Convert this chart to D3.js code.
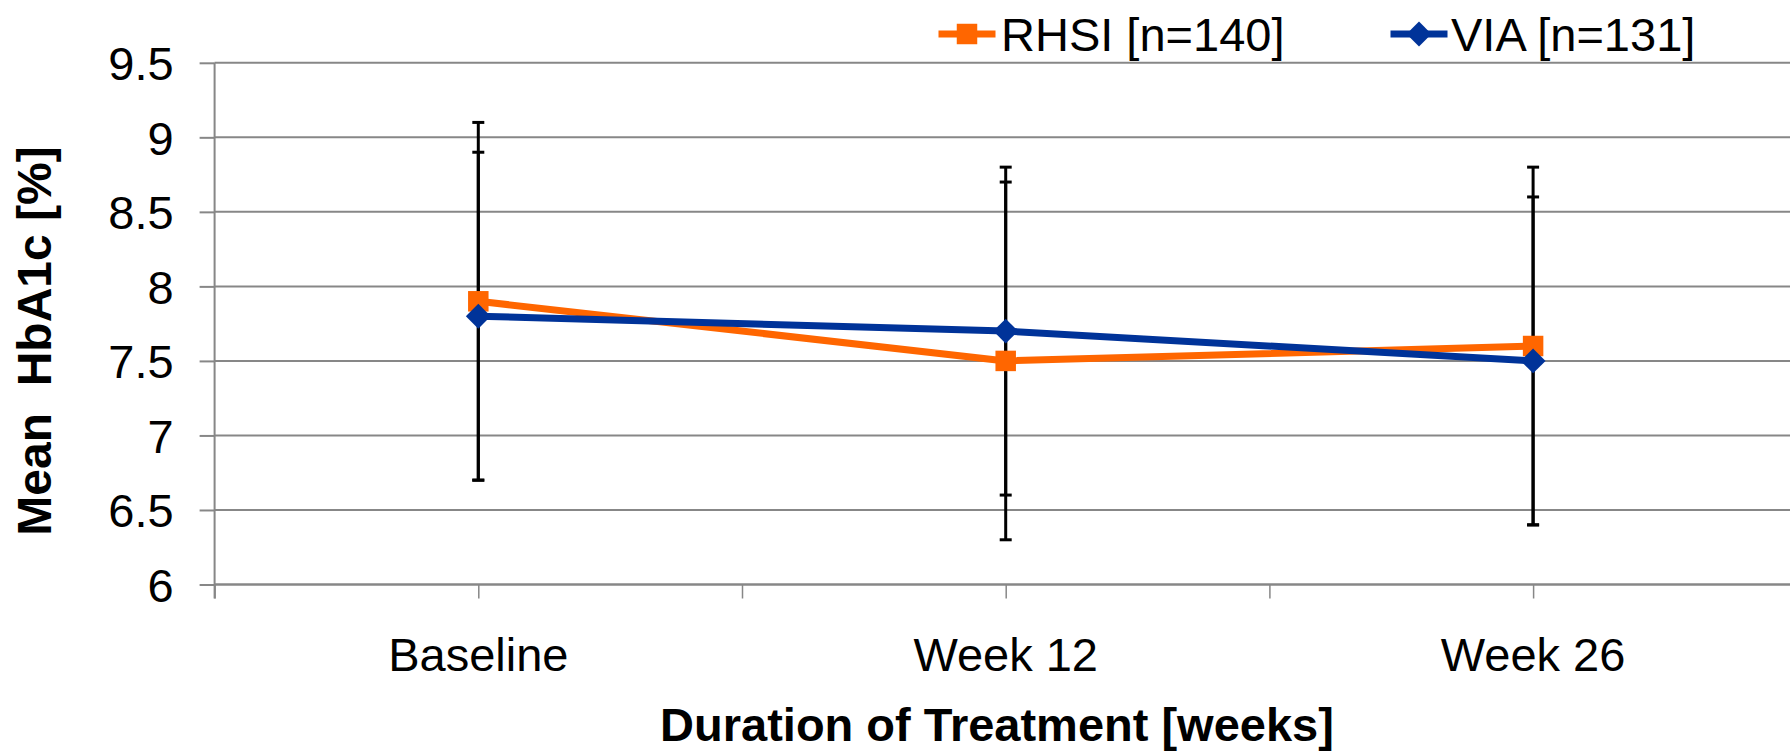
<!DOCTYPE html>
<html>
<head>
<meta charset="utf-8">
<script src="https://cdn.jsdelivr.net/npm/d3@7"></script>
<style>
  html, body { margin: 0; padding: 0; background: #fff; }
  svg { display: block; font-family: "Liberation Sans", Arial, sans-serif; }
</style>
</head>
<body>
<svg id="chart" width="1790" height="754"></svg>
<script>
// Mean HbA1c over treatment duration, two treatment groups with SD error bars
const categories = ["Baseline", "Week 12", "Week 26"];
const seriesNames = ["RHSI [n=140]", "VIA [n=131]"];
const rhsiMean = [7.9, 7.5, 7.6];
const rhsiSD = [1.2, 1.2, 1.2];
const viaMean = [7.8, 7.7, 7.5];
const viaSD = [1.1, 1.1, 1.1];
const yTicks = [6, 6.5, 7, 7.5, 8, 8.5, 9, 9.5];
const seriesColors = ["#FF6600", "#003399"];

const svg = d3.select("#chart");
const W = 1790;
const plotLeft = 214.6, plotTop = 62.8, plotBottom = 584.5;

// Categories sit on every second tick of a 0..6 slot axis
const slotStep = 263.7;
const x = d3.scaleLinear().domain([0, 6]).range([plotLeft, plotLeft + 6 * slotStep]);
const catPos = [1, 3, 5];
const y = d3.scaleLinear().domain([6, 9.5]).range([plotBottom, plotTop]);

const gridColor = "#878787";

// Horizontal gridlines
svg.append("g")
  .selectAll("line")
  .data(yTicks.filter(d => d > 6))
  .join("line")
  .attr("x1", plotLeft).attr("x2", W)
  .attr("y1", d => y(d)).attr("y2", d => y(d))
  .attr("stroke", gridColor).attr("stroke-width", 2);

// Y axis
const yAxis = d3.axisLeft(y).tickValues(yTicks).tickSize(15).tickFormat(d3.format("~g"));
const gy = svg.append("g").attr("transform", `translate(${plotLeft},0)`).call(yAxis);
gy.select(".domain").remove();
gy.selectAll(".tick line").attr("stroke", gridColor).attr("stroke-width", 2);
gy.selectAll(".tick text")
  .attr("x", -41)
  .attr("dy", "0.36em")
  .attr("fill", "#000")
  .style("font-size", "47px")
  .style("font-family", "'Liberation Sans', Arial, sans-serif");
// vertical axis line extends below to the first category tick
svg.append("line")
  .attr("x1", plotLeft).attr("x2", plotLeft)
  .attr("y1", plotTop).attr("y2", plotBottom + 14)
  .attr("stroke", gridColor).attr("stroke-width", 2);

// X axis
const xAxis = d3.axisBottom(x).tickValues(d3.range(0, 7)).tickSize(14).tickFormat("");
const gx = svg.append("g").attr("transform", `translate(0,${plotBottom})`).call(xAxis);
gx.select(".domain").remove();
gx.selectAll(".tick line").attr("stroke", gridColor).attr("stroke-width", 1.5);
svg.append("line")
  .attr("x1", plotLeft).attr("x2", W)
  .attr("y1", plotBottom).attr("y2", plotBottom)
  .attr("stroke", gridColor).attr("stroke-width", 2.5);

// Category labels
svg.append("g")
  .selectAll("text")
  .data(categories)
  .join("text")
  .attr("x", (d, i) => x(catPos[i]))
  .attr("y", 671)
  .attr("text-anchor", "middle")
  .style("font-size", "47px")
  .text(d => d);

// Axis titles
svg.append("text")
  .attr("x", 997).attr("y", 741)
  .attr("text-anchor", "middle")
  .style("font-size", "47px").style("font-weight", "bold")
  .text("Duration of Treatment [weeks]");

svg.append("text")
  .attr("transform", "translate(34,341) rotate(-90)")
  .attr("text-anchor", "middle")
  .attr("dy", "0.36em")
  .style("font-size", "48px").style("font-weight", "bold")
  .style("white-space", "pre")
  .text("Mean  HbA1c [%]");

// square marker, and a diamond made from a square turned 45°
const series = [
  { name: seriesNames[0], mean: rhsiMean, sd: rhsiSD, color: seriesColors[0], size: 420, rot: 0 },
  { name: seriesNames[1], mean: viaMean, sd: viaSD, color: seriesColors[1], size: 310, rot: 45 }
];

// Error bars (mean ± SD)
const capHalf = 6;
series.forEach(s => {
  const g = svg.append("g");
  s.mean.forEach((m, i) => {
    const cx = x(catPos[i]);
    const lo = y(m - s.sd[i]), hi = y(m + s.sd[i]);
    g.append("line").attr("x1", cx).attr("x2", cx).attr("y1", hi).attr("y2", lo)
      .attr("stroke", "#000").attr("stroke-width", 3);
    [lo, hi].forEach(v => g.append("line")
      .attr("x1", cx - capHalf).attr("x2", cx + capHalf)
      .attr("y1", v).attr("y2", v)
      .attr("stroke", "#000").attr("stroke-width", 3));
  });
});

// Series lines and markers
const line = d3.line().x((d, i) => x(catPos[i])).y(d => y(d));
series.forEach(s => {
  svg.append("path")
    .datum(s.mean)
    .attr("d", line)
    .attr("fill", "none")
    .attr("stroke", s.color)
    .attr("stroke-width", 7)
    .attr("stroke-linejoin", "round");
});
series.forEach(s => {
  svg.append("g")
    .selectAll("path")
    .data(s.mean)
    .join("path")
    .attr("transform", (d, i) => `translate(${x(catPos[i])},${y(d)}) rotate(${s.rot})`)
    .attr("d", d3.symbol().type(d3.symbolSquare).size(s.size))
    .attr("fill", s.color);
});

// Legend
const legendItems = [
  { lineX: 938.5, textX: 1001 },
  { lineX: 1390.5, textX: 1451 }
];
const legendY = 34;
series.forEach((s, i) => {
  const li = legendItems[i];
  const g = svg.append("g");
  g.append("line")
    .attr("x1", li.lineX).attr("x2", li.lineX + 57)
    .attr("y1", legendY).attr("y2", legendY)
    .attr("stroke", s.color).attr("stroke-width", 7);
  g.append("path")
    .attr("transform", `translate(${li.lineX + 28.5},${legendY}) rotate(${s.rot})`)
    .attr("d", d3.symbol().type(d3.symbolSquare).size(s.size))
    .attr("fill", s.color);
  g.append("text")
    .attr("x", li.textX).attr("y", legendY)
    .attr("dy", "0.36em")
    .style("font-size", "47px")
    .text(s.name);
});
</script>
</body>
</html>
